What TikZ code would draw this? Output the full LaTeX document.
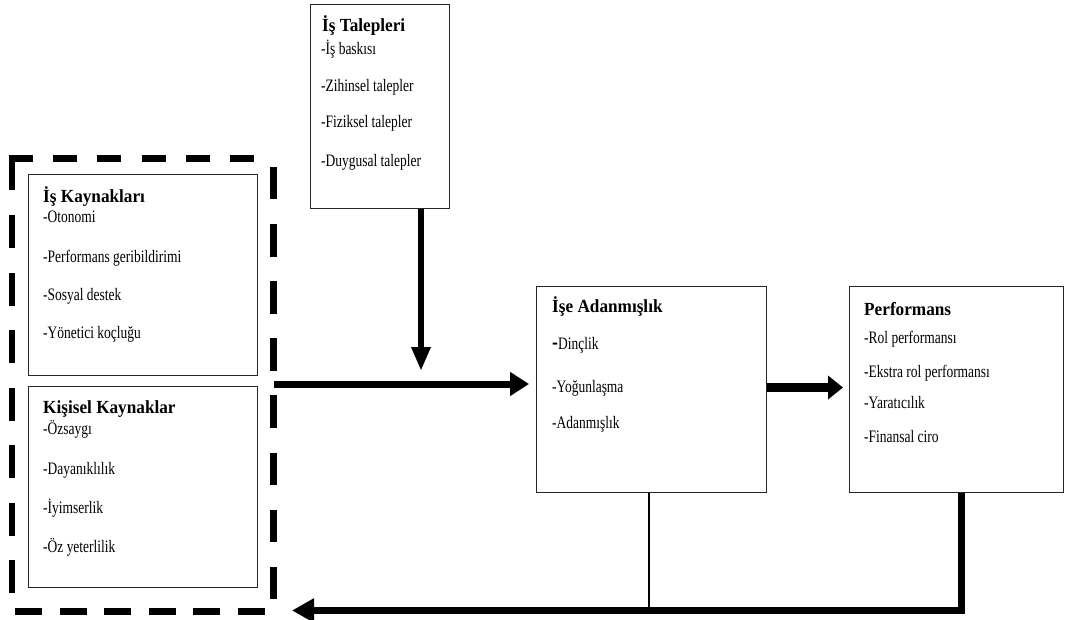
\documentclass[tikz,border=0pt]{standalone}
\usepackage{fontspec}
\setmainfont{Liberation Serif}
\newfontfamily\itemfont{Liberation Serif}[FakeStretch=0.77]
\newfontfamily\headfont{Liberation Serif}[FakeStretch=0.93]
\usetikzlibrary{arrows.meta,calc}

\begin{document}
\begin{tikzpicture}[x=1pt,y=-1pt,
  box/.style={draw=black!85, line width=1.3pt, inner sep=0pt, anchor=north west},
  head/.style={anchor=base west, inner sep=0pt, font=\headfont\bfseries\fontsize{18.5}{20}\selectfont},
  item/.style={anchor=base west, inner sep=0pt, font=\itemfont\fontsize{17.5}{19}\selectfont},
  grpside/.style={line width=6.5pt, line cap=butt},
]
\useasboundingbox (0,0) rectangle (1070,620);

% ---- boxes ----
\node[box, minimum width=139pt, minimum height=204pt] (tal) at (310,4) {};
\node[box, minimum width=229pt, minimum height=201pt] (kay) at (28,174) {};
\node[box, minimum width=229pt, minimum height=201pt] (kis) at (28,386) {};
\node[box, minimum width=230pt, minimum height=206pt] (ada) at (536,286) {};
\node[box, minimum width=214pt, minimum height=206pt] (perf) at (849,286) {};

% resource group (dashed frame)
\node[inner sep=0pt, minimum width=261.5pt, minimum height=453pt, anchor=north west] (grp) at (12,158) {};
\draw[grpside, dash pattern=on 24pt off 20.2pt] (9,158.5) -- (273.5,158.5);
\draw[grpside, dash pattern=on 33pt off 24.5pt] (12,157.5) -- (12,611);
\draw[grpside, dash pattern=on 32.5pt off 24.6pt] (273.5,167) -- (273.5,611);
\draw[grpside, dash pattern=on 27pt off 17.6pt] (15,611.5) -- (273,611.5);

% ---- texts ----
\node[head] (talh) at (322,32) {İş Talepleri};
\node[item] at (321,55) {-İş baskısı};
\node[item] at (321,92) {-Zihinsel talepler};
\node[item] at (321,128) {-Fiziksel talepler};
\node[item] at (321,167) {-Duygusal talepler};

\node[head] (kayh) at (43,203) {İş Kaynakları};
\node[item] at (43,223) {-Otonomi};
\node[item] at (43,262) {-Performans geribildirimi};
\node[item] at (43,300) {-Sosyal destek};
\node[item] at (43,338) {-Yönetici koçluğu};

\node[head] (kish) at (43,413) {Kişisel Kaynaklar};
\node[item] at (43,434) {-Özsaygı};
\node[item] at (43,474) {-Dayanıklılık};
\node[item] at (43,513) {-İyimserlik};
\node[item] at (43,552) {-Öz yeterlilik};

\node[head] (adah) at (552,312) {İşe Adanmışlık};
\node[item] at (552,349) {{\bfseries\fontsize{23}{23}\selectfont -}Dinçlik};
\node[item] at (552,392) {-Yoğunlaşma};
\node[item] at (552,428) {-Adanmışlık};

\node[head] (perfh) at (864,315) {Performans};
\node[item] at (864,343) {-Rol performansı};
\node[item] at (864,377) {-Ekstra rol performansı};
\node[item] at (864,408) {-Yaratıcılık};
\node[item] at (864,442) {-Finansal ciro};

% ---- connectors ----
\coordinate (vtip) at (421,371);
\draw[line width=6pt, -{Triangle[length=24pt,width=18pt]}] (tal.south -| vtip) -- (vtip);

\coordinate (hrow) at (0,384);
\draw[line width=7pt, -{Triangle[length=19pt,width=23pt]}, shorten >=7pt]
  (grp.east |- hrow) -- (ada.west |- hrow);

\coordinate (prow) at (0,387.5);
\draw[line width=8.5pt, -{Triangle[length=15pt,width=23pt]}, shorten >=6pt]
  (ada.east |- prow) -- (perf.west |- prow);

\coordinate (lv) at (649,607);
\draw[line width=1.3pt] (ada.south -| lv) -- (lv);

\coordinate (rv) at (961,610.5);
\coordinate (ret) at (292,610.5);
\draw[line width=7pt, -{Triangle[length=22pt,width=23pt]}]
  (perf.south -| rv) -- (rv) -- (ret);
\end{tikzpicture}
\end{document}
